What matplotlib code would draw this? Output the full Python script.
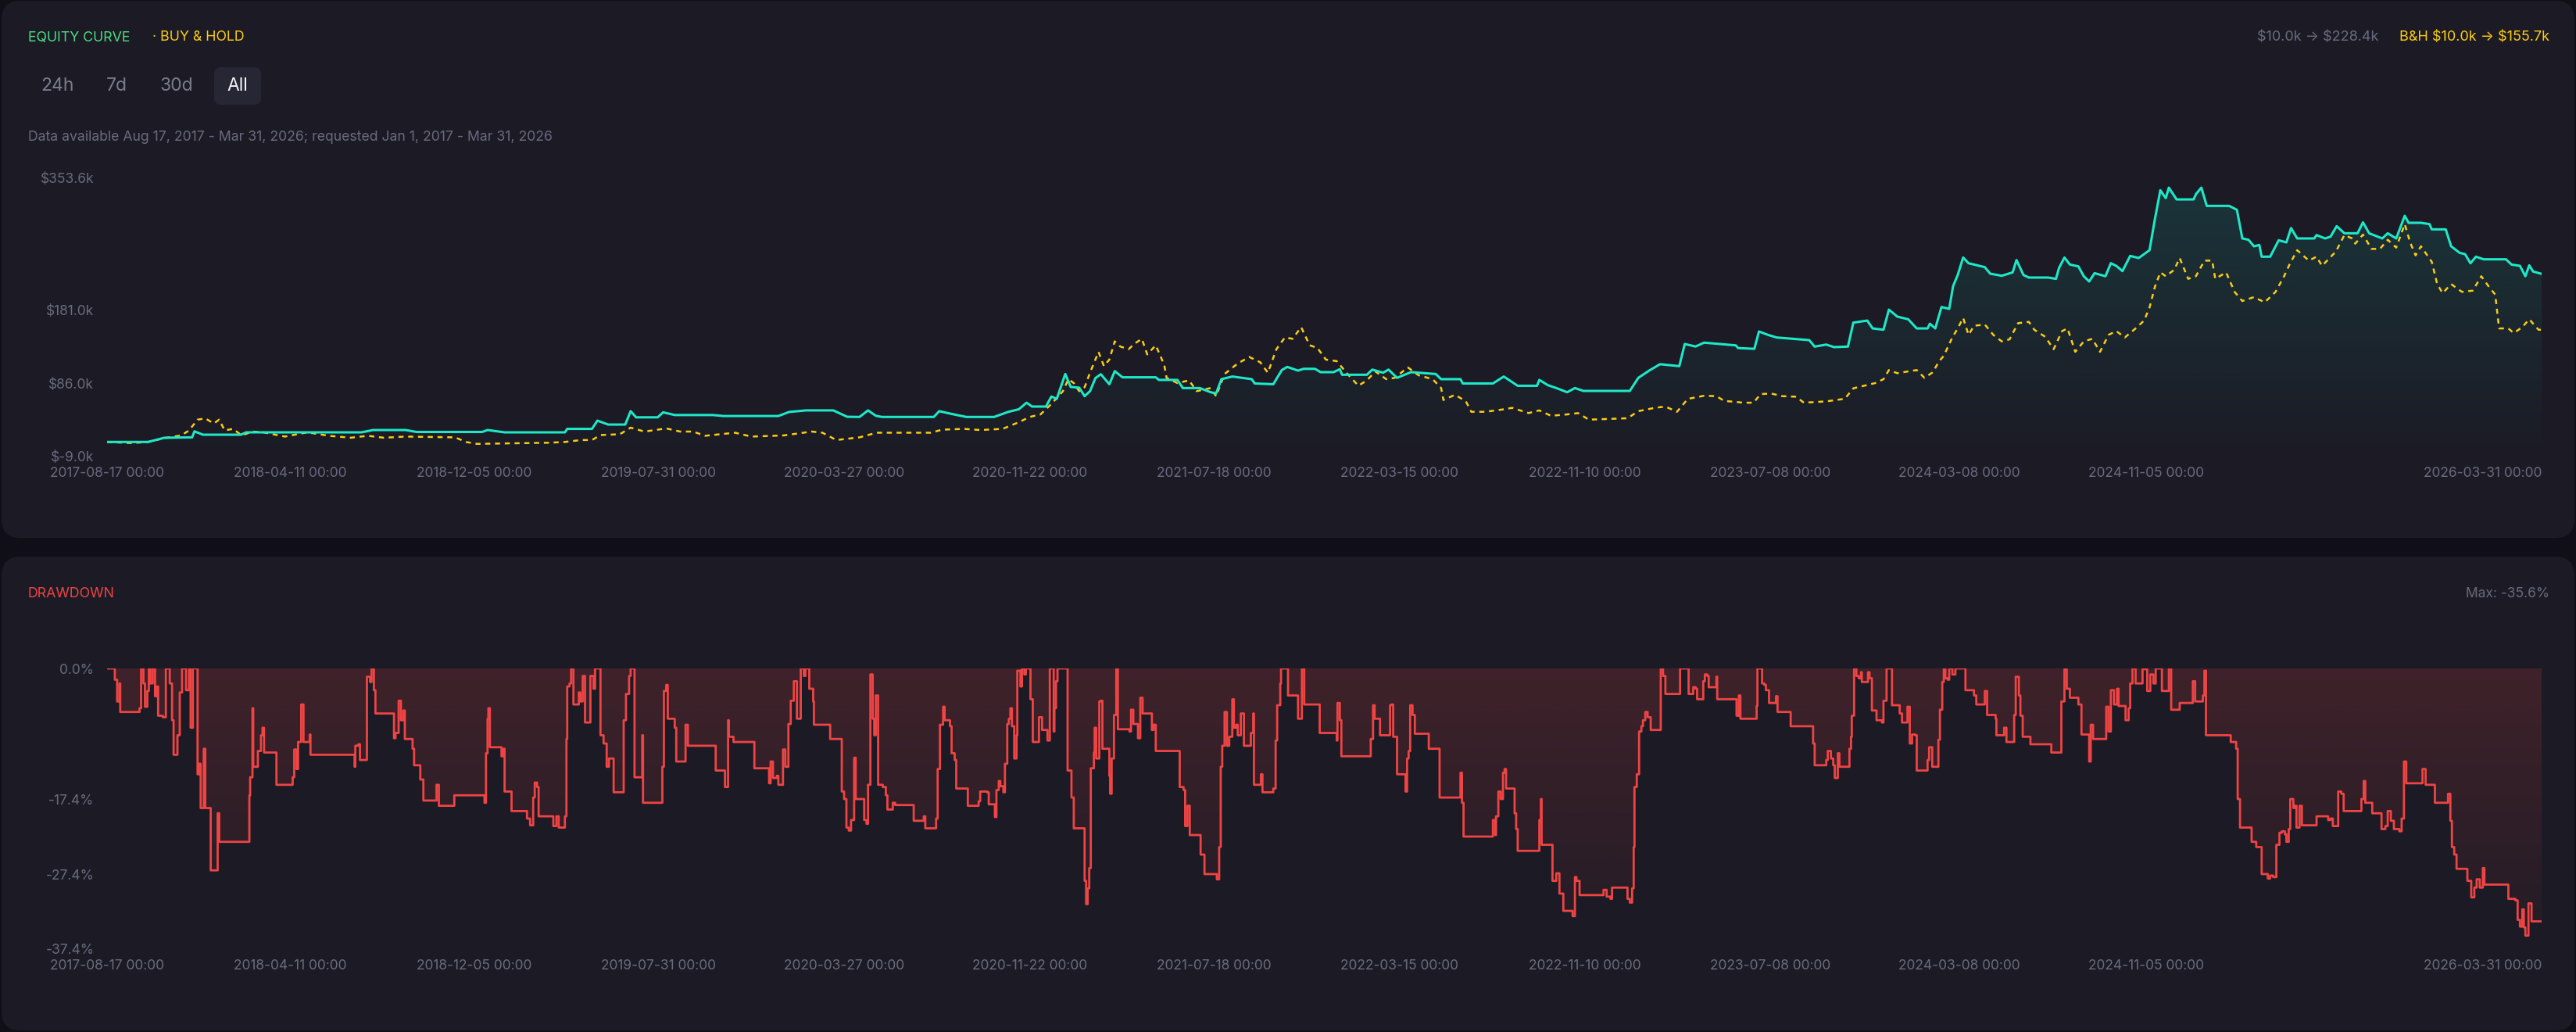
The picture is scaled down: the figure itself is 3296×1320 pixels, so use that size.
import numpy as np
import pandas as pd
import matplotlib
matplotlib.use("Agg")
import matplotlib.pyplot as plt
import matplotlib.dates as mdates
from matplotlib.patches import FancyBboxPatch
from matplotlib.path import Path

plt.rcParams['font.family'] = ['Inter', 'DejaVu Sans']

START = pd.Timestamp('2017-08-17')

# strategy equity, $k, days since 2017-08-17
strat_day = [0, 53, 74, 110, 113, 124, 173, 180, 329, 344, 386, 400, 485, 492, 514, 592, 595, 627, 634,
             648, 670, 677, 684, 712, 719, 734, 783, 797, 868, 882, 904, 939, 957, 973, 984, 994, 1002,
             1069, 1076, 1094, 1111, 1147, 1165, 1179, 1189, 1196, 1214, 1221, 1228, 1239, 1246, 1257,
             1264, 1271, 1278, 1285, 1296, 1303, 1313, 1356, 1360, 1384, 1391, 1413, 1427, 1434, 1441,
             1455, 1480, 1484, 1508, 1519, 1526, 1540, 1547, 1562, 1569, 1586, 1594, 1597, 1629, 1636,
             1650, 1657, 1668, 1686, 1718, 1725, 1750, 1753, 1792, 1806, 1824, 1849, 1852, 1863, 1874,
             1888, 1898, 1909, 1969, 1980, 1994, 2008, 2033, 2040, 2054, 2065, 2085, 2106, 2109, 2130,
             2136, 2148, 2159, 2201, 2208, 2223, 2233, 2251, 2258, 2276, 2283, 2297, 2304, 2315, 2329,
             2340, 2354, 2357, 2364, 2372, 2382, 2387, 2393, 2400, 2407, 2428, 2435, 2450, 2464, 2469,
             2478, 2485, 2510, 2520, 2524, 2531, 2538, 2549, 2556, 2563, 2570, 2584, 2591, 2598, 2606,
             2616, 2627, 2641, 2648, 2655, 2662, 2666, 2676, 2698, 2701, 2708, 2715, 2744, 2754, 2761,
             2769, 2776, 2783, 2786, 2797, 2808, 2818, 2824, 2832, 2854, 2857, 2868, 2875, 2883, 2893,
             2910, 2917, 2925, 2942, 2949, 2960, 2971, 2976, 2992, 3003, 3006, 3024, 3031, 3042, 3049,
             3056, 3063, 3073, 3102, 3109, 3120, 3127, 3132, 3137, 3148]
strat_k = [10, 10, 15.4, 16, 23.8, 19.4, 19.4, 22.5, 22.5, 25.5, 25.5, 23, 23, 25.5, 22.5, 22.5, 27, 27, 37.7,
           32.6, 32.6, 50, 42, 42, 48.5, 45, 45, 43.7, 43.7, 49, 51, 51, 42.7, 42.5, 51, 44, 42.5,
           42.5, 50, 46, 42.5, 42.5, 49, 52.5, 61, 56, 56, 69, 66, 98.3, 81.5, 80.5,
           69.5, 76, 93, 98, 85, 102, 94, 94, 90.6, 90.6, 80, 80, 74.6, 73, 91.6,
           95, 91.6, 86, 85, 103.4, 107.5, 102.7, 105, 105, 100.7, 100.7, 104.5, 97.3, 97.3, 104,
           100, 104, 93.3, 100.7, 98.3, 91.6, 91.6, 86, 86, 95, 83, 83, 90.6, 83.8, 80,
           74.6, 80, 76.3, 76.3, 93.3, 102.7, 111, 108.5, 137.3, 134, 139, 137.3, 135.5, 132, 131,
           153.5, 149, 145.7, 142.3, 133.9, 136.5, 133.2, 133.9, 165, 167.7, 157.5, 155.8, 181.9, 172.8, 169.4,
           157.5, 157.5, 163.6, 157.5, 185.3, 182.9, 212.4, 226.9, 249.6, 242.2, 237.1, 228.6, 225.9, 230.3, 246.3,
           226.9, 223.6, 223.6, 221.9, 236.1, 249.6, 240.5, 238.1, 225.3, 218.5, 229.3, 225.3, 242.2, 238.8, 232,
           251.7, 249, 259.1, 299.7, 337, 326.8, 340.4, 325.1, 325.1, 331.9, 340.4, 316.7, 316.7, 311.6, 274.4,
           272.7, 264.2, 265.9, 250.7, 250.7, 272, 269.3, 287.9, 274.4, 274.4, 278.8, 274.4, 276.7, 290.3, 281.1,
           281.1, 295.3, 281.1, 274.4, 281.1, 274.4, 303.8, 294.7, 294.7, 293, 286.2, 286.2, 264.2, 255.7, 254,
           242.2, 250.7, 247.3, 247.3, 240.5, 238.8, 225.3, 239.5, 231.4, 228.4]

# buy & hold equity, $k
bh_day = [0, 32, 53, 74, 96, 106, 117, 127, 138, 145, 152, 163, 174, 188, 202, 230, 259, 287, 315, 337, 358,
          386, 450, 464, 478, 571, 592, 613, 627, 638, 663, 677, 695, 723, 741, 758, 773, 812, 833, 875, 911,
          925, 943, 973, 995, 1065, 1080, 1108, 1129, 1158, 1179, 1193, 1207, 1221, 1236, 1243, 1250, 1257,
          1264, 1271, 1282, 1289, 1296, 1303, 1310, 1321, 1328, 1338, 1345, 1356, 1367, 1370, 1384, 1399,
          1409, 1427, 1434, 1445, 1462, 1477, 1491, 1501, 1512, 1523, 1533, 1544, 1555, 1565, 1576, 1590,
          1604, 1618, 1629, 1640, 1654, 1665, 1682, 1696, 1714, 1725, 1728, 1743, 1757, 1764, 1782, 1803,
          1817, 1838, 1852, 1867, 1888, 1902, 1916, 1966, 1980, 2001, 2015, 2030, 2044, 2065, 2081, 2091,
          2116, 2129, 2138, 2152, 2166, 2184, 2194, 2223, 2247, 2258, 2272, 2286, 2297, 2304, 2315, 2329,
          2340, 2350, 2361, 2368, 2375, 2386, 2393, 2400, 2407, 2414, 2428, 2439, 2450, 2460, 2471, 2485,
          2492, 2506, 2517, 2528, 2535, 2545, 2556, 2567, 2577, 2588, 2598, 2609, 2623, 2634, 2641, 2648,
          2655, 2662, 2673, 2680, 2691, 2701, 2712, 2722, 2726, 2740, 2751, 2761, 2776, 2790, 2804, 2815,
          2822, 2832, 2847, 2857, 2864, 2882, 2893, 2903, 2907, 2917, 2928, 2939, 2949, 2960, 2971, 2978,
          2985, 2992, 3006, 3013, 3020, 3031, 3045, 3059, 3070, 3081, 3088, 3093, 3105, 3112, 3123, 3132,
          3144, 3148]
bh_k = [10, 8.5, 10, 15, 18.5, 25, 39, 40.6, 34, 39, 25, 27, 18.5, 23.5, 22.5, 17, 22.5, 18, 15.5, 18, 15.5,
        17, 16, 10, 7.5, 9, 10, 12.5, 12.5, 19, 20, 28.6, 23.5, 27.6, 23.5, 23.5, 18, 22, 17, 18.5, 23.5,
        22, 12.5, 16, 22, 22, 26, 27, 25.5, 27, 35.7, 42.5, 45.8, 59.4, 76, 91.6, 86.5, 76,
        81, 100, 127, 108.5, 117, 140.7, 134, 130.5, 137.3, 144, 123.7, 135.6, 110, 93.3, 86.5, 90,
        76, 80, 69.5, 98.3, 112, 120.4, 113.6, 100, 130.5, 145.8, 144, 159.2, 135.6, 132.2, 117, 115,
        98.3, 83, 90, 101.6, 91.6, 93.3, 106.8, 96.6, 91.6, 80, 64.5, 71.3, 62.8, 49.2, 49.2, 52,
        54.3, 47.5, 51, 44, 45.8, 47.5, 39, 40.8, 50, 54.3, 56, 49.2, 66, 70, 69.5, 63.4,
        61, 61, 72.2, 72.9, 69.5, 68.8, 61, 62.7, 66.1, 79.7, 83.1, 86.4, 91.5, 103.4, 99.3, 101.7,
        103.4, 93.2, 100.7, 113.5, 122, 145.7, 157.5, 171.1, 149.1, 160.9, 162.6, 149.1, 140.6, 143.3, 164.3, 166,
        155.8, 146.7, 130.5, 154.1, 157.5, 127.1, 140.6, 144, 127.1, 149.1, 154.1, 145.7, 157.5, 167.7, 184.6, 211.7,
        230.3, 225.3, 233.7, 249, 221.9, 225.3, 245.6, 245.6, 221.9, 230.3, 205, 193.1, 198.2, 191.4, 205, 225.3,
        240.5, 259.1, 245.6, 250.7, 238.8, 257.4, 278.8, 274.4, 267.6, 279.4, 260.8, 260.8, 272.7, 262.5, 293, 269.3,
        252.4, 264.2, 243.9, 215.1, 203.3, 215.1, 205, 206.6, 225.3, 210, 201.6, 157.5, 157.5, 151.4, 159.2, 169.4,
        155.8, 155.7]

# drawdown, % (step series)
dd_day = [0, 8, 10, 13, 16, 17, 39, 42, 44, 47, 49, 52, 54, 56, 59, 62, 64, 66, 72, 76, 81, 84, 86, 91, 94, 97,
          102, 106, 108, 111, 115, 117, 119, 121, 125, 127, 132, 134, 142, 143, 145, 182, 184, 185, 188, 189,
          195, 199, 201, 203, 217, 219, 238, 240, 242, 245, 247, 251, 254, 262, 263, 317, 320, 321, 325, 327,
          334, 336, 340, 342, 345, 347, 369, 371, 373, 377, 380, 383, 385, 394, 395, 397, 405, 409, 425, 426,
          429, 447, 449, 488, 490, 492, 493, 495, 506, 510, 512, 514, 520, 523, 540, 543, 547, 551, 553, 556,
          558, 575, 577, 581, 584, 588, 592, 594, 595, 598, 600, 603, 606, 610, 612, 615, 618, 624, 625, 629,
          631, 637, 638, 642, 646, 649, 652, 655, 666, 668, 671, 675, 677, 681, 682, 690, 692, 693, 715, 718,
          720, 723, 725, 732, 734, 736, 746, 748, 751, 784, 787, 797, 799, 803, 804, 810, 835, 837, 855, 856,
          858, 861, 866, 868, 872, 874, 877, 881, 884, 888, 892, 894, 897, 901, 903, 907, 908, 913, 914, 933,
          935, 947, 950, 953, 956, 959, 962, 966, 968, 977, 979, 982, 984, 987, 990, 992, 994, 997, 1003, 1007,
          1009, 1016, 1019, 1041, 1043, 1055, 1056, 1058, 1070, 1072, 1074, 1077, 1081, 1083, 1087, 1090, 1092,
          1096, 1098, 1110, 1113, 1125, 1127, 1129, 1138, 1140, 1146, 1148, 1150, 1153, 1155, 1159, 1161, 1164,
          1166, 1168, 1170, 1173, 1176, 1177, 1181, 1183, 1186, 1188, 1194, 1197, 1203, 1205, 1209, 1214, 1216,
          1219, 1222, 1224, 1225, 1227, 1229, 1240, 1242, 1247, 1250, 1261, 1264, 1266, 1268, 1270, 1272, 1276,
          1277, 1279, 1283, 1285, 1287, 1293, 1296, 1297, 1299, 1302, 1305, 1307, 1320, 1322, 1324, 1327, 1331,
          1333, 1336, 1339, 1350, 1351, 1353, 1356, 1385, 1387, 1392, 1394, 1397, 1400, 1413, 1414, 1418, 1419,
          1433, 1435, 1438, 1440, 1442, 1445, 1448, 1451, 1455, 1457, 1460, 1462, 1466, 1470, 1477, 1479, 1482,
          1483, 1491, 1492, 1494, 1505, 1508, 1511, 1513, 1517, 1518, 1525, 1527, 1537, 1540, 1542, 1545, 1548,
          1566, 1568, 1587, 1590, 1591, 1594, 1596, 1631, 1634, 1637, 1639, 1644, 1646, 1657, 1659, 1661, 1663,
          1666, 1668, 1675, 1679, 1681, 1683, 1685, 1688, 1691, 1706, 1709, 1722, 1723, 1748, 1750, 1752, 1754,
          1789, 1792, 1795, 1796, 1799, 1802, 1805, 1807, 1809, 1818, 1820, 1822, 1824, 1849, 1852, 1854, 1855,
          1866, 1869, 1874, 1878, 1883, 1892, 1895, 1898, 1900, 1904, 1933, 1935, 1939, 1944, 1946, 1966, 1969,
          1972, 1974, 1975, 1978, 1981, 1984, 1986, 1989, 1992, 1996, 2008, 2009, 2012, 2015, 2032, 2034, 2044,
          2045, 2049, 2051, 2054, 2056, 2061, 2064, 2066, 2069, 2071, 2079, 2081, 2082, 2104, 2107, 2110, 2112,
          2130, 2133, 2134, 2138, 2140, 2143, 2145, 2149, 2156, 2158, 2160, 2175, 2177, 2205, 2206, 2208, 2219,
          2223, 2225, 2229, 2232, 2234, 2238, 2240, 2251, 2253, 2255, 2256, 2259, 2262, 2265, 2268, 2269, 2275,
          2277, 2279, 2282, 2286, 2288, 2295, 2297, 2301, 2306, 2308, 2316, 2318, 2321, 2327, 2328, 2331, 2334,
          2338, 2340, 2353, 2354, 2356, 2360, 2365, 2368, 2370, 2373, 2375, 2377, 2380, 2382, 2386, 2390, 2401,
          2403, 2412, 2414, 2417, 2425, 2428, 2431, 2438, 2442, 2443, 2449, 2453, 2456, 2464, 2466, 2468, 2472,
          2474, 2477, 2484, 2487, 2511, 2514, 2523, 2527, 2531, 2534, 2538, 2547, 2549, 2553, 2560, 2563, 2565,
          2568, 2583, 2585, 2588, 2591, 2595, 2599, 2601, 2607, 2610, 2614, 2616, 2619, 2623, 2631, 2632, 2638,
          2642, 2646, 2649, 2657, 2664, 2666, 2669, 2677, 2680, 2696, 2697, 2700, 2707, 2710, 2712, 2714, 2743,
          2746, 2753, 2755, 2758, 2770, 2773, 2779, 2785, 2786, 2792, 2794, 2797, 2801, 2805, 2809, 2812, 2816,
          2818, 2821, 2823, 2827, 2829, 2831, 2835, 2838, 2855, 2857, 2869, 2872, 2875, 2878, 2883, 2885, 2889,
          2892, 2912, 2915, 2918, 2920, 2927, 2929, 2938, 2941, 2946, 2949, 2953, 2957, 2964, 2967, 2970, 2973,
          2992, 2994, 2998, 3007, 3010, 3024, 3027, 3030, 3032, 3035, 3038, 3049, 3052, 3057, 3061, 3064, 3068,
          3072, 3074, 3104, 3105, 3114, 3117, 3120, 3123, 3125, 3127, 3131, 3135, 3148]
dd_pct = [0, 0, -1.5, -4.4, -2.0, -5.8, -5.8, -5.3, 0, -2.0, -5.1, -3.0, 0, -2.0, 0, -3.7, -2.4, -6.3, -6.5, 0,
          -2.0, -6.9, -11.5, -8.9, -3.2, 0, -2.9, 0, -7.9, 0, 0, -14.1, -12.7, -18.6, -10.7, -18.6, -18.6, -26.9,
          -26.9, -19.3, -23.1, -23.1, -16.9, -14.5, -5.3, -13.1, -11.0, -8.9, -7.9, -11.2, -11.2, -15.5, -15.5,
          -14.5, -10.8, -13.4, -9.8, -4.8, -9.8, -8.8, -11.5, -11.5, -13.1, -10.3, -10.1, -12.2, -12.2, -1.1,
          -1.8, 0, -2.9, -6.0, -6.0, -9.3, -8.6, -4.3, -6.9, -5.6, -9.4, -9.4, -10.7, -12.9, -14.8, -17.6, -17.6,
          -15.5, -18.3, -18.3, -16.9, -17.9, -11.3, -6.7, -5.3, -10.5, -10.5, -11.7, -10.7, -16.4, -16.4, -19.0,
          -19.0, -20.0, -20.9, -17.2, -15.2, -15.8, -19.7, -19.7, -21.0, -19.7, -21.2, -21.2, -19.7, -9.4, -2.4,
          -2.0, 0, -4.8, -4.8, -3.2, -4.4, -1.0, -7.2, -7.2, -1.0, -2.7, 0, 0, -8.9, -10.0, -13.1, -12.0, -12.0,
          -16.5, -16.5, -6.9, -3.4, -1.0, 0, 0, -14.5, -14.5, -8.9, -17.9, -17.9, -13.1, -3.0, -2.2, -6.7, -6.7,
          -7.9, -12.4, -12.4, -7.5, -10.3, -10.3, -13.6, -13.6, -15.8, -6.9, -9.1, -9.8, -9.8, -13.3, -13.3,
          -15.3, -12.4, -14.6, -14.3, -15.5, -15.5, -10.8, -13.1, -7.4, -4.3, -1.7, -6.7, -6.7, 0, -1.0, 0, 0,
          -2.7, -4.4, -7.5, -7.5, -9.4, -9.4, -16.4, -17.4, -21.2, -21.6, -20.2, -11.9, -17.4, -17.4, -20.2,
          -20.7, -15.5, -0.8, -6.7, -8.9, -3.6, -15.5, -15.8, -16.9, -18.8, -17.9, -18.2, -18.2, -20.3, -20.3,
          -19.7, -21.3, -21.3, -20.0, -13.4, -7.5, -5.1, -6.9, -6.9, -7.7, -11.3, -12.2, -16.0, -16.0, -18.3,
          -18.3, -17.7, -16.4, -16.5, -18.1, -18.1, -19.8, -16.2, -15.0, -15.7, -16.5, -12.7, -7.4, -6.7, -5.3,
          -7.7, -12.0, -8.9, -0.3, -2.4, 0, -0.8, 0, -4.1, -9.8, -9.8, -6.5, -8.2, -8.2, -9.6, 0, 0, -8.4, -5.3,
          -1.7, 0, 0, -13.6, -17.2, -21.3, -21.3, -28.3, -31.4, -29.3, -26.6, -13.3, -11.2, -7.9, -12.0, -4.4,
          -4.3, -10.7, -10.7, -14.3, -16.7, -12.0, -6.2, 0, -8.1, -8.1, -8.4, -5.5, -7.4, -7.4, -9.3, -3.9, -6.0,
          -6.0, -8.2, -7.5, -11.0, -11.0, -15.8, -16.2, -21.0, -18.3, -22.2, -22.2, -24.8, -24.8, -27.4, -27.4,
          -28.1, -23.8, -13.1, -10.3, -5.8, -10.3, -9.1, -4.1, -7.9, -7.5, -8.9, -6.0, -10.3, -10.3, -8.6, -6.0,
          -15.5, -15.5, -14.1, -16.5, -16.5, -16.0, -9.6, -4.9, -2.0, 0, 0, -3.6, -3.6, -6.7, -6.7, 0, -4.8,
          -4.8, -8.6, -8.6, -9.6, -4.6, -6.9, -11.7, -11.7, -9.4, -4.9, -6.7, -6.7, -8.9, -8.9, -4.9, -4.8, -9.1,
          -9.1, -14.1, -14.1, -16.4, -12.0, -11.0, -4.9, -6.2, -8.7, -8.7, -10.7, -10.7, -17.2, -17.2, -13.9,
          -17.9, -22.4, -22.4, -20.2, -22.2, -19.7, -16.4, -17.4, -13.9, -13.4, -16.0, -16.0, -19.3, -21.4,
          -24.3, -24.3, -20.2, -17.4, -23.5, -23.5, -28.3, -27.3, -30.0, -32.3, -32.3, -33.0, -27.8, -28.3,
          -30.2, -30.2, -29.5, -30.4, -30.7, -29.2, -30.7, -31.2, -29.3, -23.8, -15.8, -14.1, -8.4, -7.7, -6.9,
          -5.8, -6.5, -8.2, -8.2, 0, -1.0, -3.4, -3.4, 0, 0, -3.4, -3.4, -2.5, -2.7, -4.1, -4.1, -1.7, -0.8,
          -1.0, -2.5, -2.5, -1.1, -4.1, -4.1, -6.3, -3.6, -6.7, -6.7, -5.0, 0, 0, -2.0, -2.2, -2.9, -4.6, -4.6,
          -3.7, -5.8, -5.8, -7.7, -7.7, -10.0, -12.9, -12.9, -12.2, -11.0, -12.0, -12.9, -14.6, -11.3, -13.1,
          -13.1, -10.7, -9.1, -6.3, 0, -1.0, -1.3, -0.5, -1.8, -1.8, -0.5, -1.3, -5.6, -5.6, -6.9, -7.2, -4.3, 0,
          0, -4.9, -4.9, -6.0, -7.2, -7.2, -5.1, -10.0, -8.8, -8.9, -13.6, -13.6, -12.2, -10.5, -13.1, -13.1,
          -9.5, -5.5, -1.8, 0, -1.3, -1.5, 0, -0.8, 0, 0, -2.9, -2.9, -3.6, -4.8, -4.8, -3.0, -6.2, -6.2, -6.7,
          -8.9, -8.9, -7.9, -9.8, -9.8, -6.2, -1.1, -3.6, -6.3, -9.1, -9.1, -10.1, -10.1, -11.2, -11.2, -4.4,
          -0.1, -2.7, -3.9, -3.9, -4.8, -8.8, -8.8, -12.4, -7.5, -9.4, -9.4, -5.1, -8.4, -2.9, -4.8, -2.7, -5.0,
          -5.0, -6.9, -5.3, -2.0, 0, -2.0, -2.0, -0.1, -3.0, -0.8, -2.0, 0, -3.0, -3.0, 0, -5.5, -5.5, -4.6,
          -4.6, -1.7, -4.4, -4.4, -3.6, -0.3, -8.9, -8.9, -9.8, -10.7, -17.4, -21.2, -21.2, -23.1, -23.8, -23.8,
          -27.4, -27.4, -28.0, -27.6, -27.8, -23.5, -21.9, -21.7, -22.1, -23.1, -21.4, -17.4, -18.6, -18.3,
          -21.2, -18.3, -20.9, -20.9, -19.7, -19.7, -20.2, -20.0, -21.0, -21.0, -16.4, -16.7, -19.0, -19.0,
          -17.4, -15.0, -17.9, -17.9, -19.3, -19.3, -21.4, -21.0, -19.0, -20.3, -21.4, -21.7, -20.0, -12.4,
          -15.3, -15.3, -13.4, -15.5, -15.5, -17.9, -17.9, -16.7, -20.3, -23.8, -24.8, -26.7, -26.7, -28.3,
          -30.5, -29.2, -28.1, -29.2, -26.6, -28.8, -28.8, -30.7, -30.9, -33.5, -34.4, -32.1, -34.5, -35.6,
          -31.3, -33.7, -33.7]

eq_ticks = [-9.0, 86.0, 181.0, 353.6]
eq_ticklabels = ['$-9.0k', '$86.0k', '$181.0k', '$353.6k']
dd_ticks = [0.0, -17.4, -27.4, -37.4]
dd_ticklabels = ['0.0%', '-17.4%', '-27.4%', '-37.4%']
x_ticks = ['2017-08-17', '2018-04-11', '2018-12-05', '2019-07-31', '2020-03-27', '2020-11-22',
           '2021-07-18', '2022-03-15', '2022-11-10', '2023-07-08', '2024-03-08', '2024-11-05', '2026-03-31']

BG = '#100f17'
PANEL = '#1c1b25'
GRAY = '#6b6a7e'
TEAL = '#1ee8c8'
YELLOW = '#facc15'
RED = '#ef4444'
W, H = 3296, 1320


def to_dates(days):
    return START + pd.to_timedelta(days, unit='D')


fig = plt.figure(figsize=(W / 100, H / 100), dpi=100, facecolor=BG)

# background layer in pixel coordinates
bg = fig.add_axes([0, 0, 1, 1])
bg.set_xlim(0, W)
bg.set_ylim(H, 0)
bg.axis('off')
for (y0, y1) in [(1, 688), (712, 1318)]:
    bg.add_patch(FancyBboxPatch((2, y0), W - 4, y1 - y0, boxstyle='round,pad=0,rounding_size=24',
                                fc=PANEL, ec='none'))
bg.add_patch(FancyBboxPatch((274, 86), 60, 48, boxstyle='round,pad=0,rounding_size=9',
                            fc='#272634', ec='none'))

bg.text(36, 48, 'EQUITY CURVE', color='#4ade80', fontsize=12.8, va='center', ha='left')
bg.text(195, 48, '· BUY & HOLD', color=YELLOW, fontsize=12.8, va='center', ha='left')
bg.text(3262, 48, 'B&H \\$10.0k → \\$155.7k', color=YELLOW, fontsize=13, va='center', ha='right')
bg.text(3043, 48, '\\$10.0k → \\$228.4k', color=GRAY, fontsize=13, va='center', ha='right')
for lab, xc, col in [('24h', 73, '#7c7b8f'), ('7d', 149, '#7c7b8f'), ('30d', 226, '#7c7b8f'), ('All', 304, '#f2f2f7')]:
    bg.text(xc, 110, lab, color=col, fontsize=16.5, va='center', ha='center')
bg.text(36, 175, 'Data available Aug 17, 2017 - Mar 31, 2026; requested Jan 1, 2017 - Mar 31, 2026',
        color=GRAY, fontsize=12.7, va='center', ha='left')
bg.text(36, 759, 'DRAWDOWN', color=RED, fontsize=12.8, va='center', ha='left')
bg.text(3262, 759, 'Max: -35.6%', color=GRAY, fontsize=12.5, va='center', ha='right')

x0, x1 = 137 / W, 3252 / W
ax1 = fig.add_axes([x0, 1 - 584 / H, x1 - x0, (584 - 227) / H])
ax2 = fig.add_axes([x0, 1 - 1214 / H, x1 - x0, (1214 - 855) / H])

s_dates = to_dates(strat_day)
b_dates = to_dates(bh_day)
d_dates = to_dates(dd_day)
xmin, xmax = mdates.date2num(START), mdates.date2num(to_dates([3148])[0])


def gradient_fill(ax, coll, rgb, a_top, a_bot, ylo, yhi):
    grad = np.zeros((256, 1, 4))
    grad[:, 0, :3] = matplotlib.colors.to_rgb(rgb)
    grad[:, 0, 3] = np.linspace(a_top, a_bot, 256)
    im = ax.imshow(grad, extent=[xmin, xmax, ylo, yhi], aspect='auto', origin='upper', zorder=1)
    clip = Path.make_compound_path(*coll.get_paths())
    im.set_clip_path(clip, ax.transData)


# equity panel
poly = ax1.fill_between(s_dates, strat_k, -9.0, facecolor='none', edgecolor='none')
gradient_fill(ax1, poly, '#14b8a6', 0.17, 0.0, -9.0, 353.6)
ax1.plot(b_dates, bh_k, color=YELLOW, lw=1.8, ls=(0, (2.6, 2.4)), zorder=3)
ax1.plot(s_dates, strat_k, color=TEAL, lw=2.2, zorder=4)
ax1.set_ylim(-9.0, 353.6)
ax1.set_yticks(eq_ticks)
ax1.set_yticklabels(eq_ticklabels)

# drawdown panel
poly2 = ax2.fill_between(d_dates, dd_pct, 0, step='post', facecolor='none', edgecolor='none')
gradient_fill(ax2, poly2, RED, 0.17, 0.03, -37.4, 0)
ax2.plot(d_dates, dd_pct, color=RED, lw=2.0, drawstyle='steps-post', zorder=4)
ax2.set_ylim(-37.4, 0)
ax2.set_yticks(dd_ticks)
ax2.set_yticklabels(dd_ticklabels)

for ax in (ax1, ax2):
    ax.set_facecolor('none')
    ax.set_xlim(xmin, xmax)
    for sp in ax.spines.values():
        sp.set_visible(False)
    ax.set_xticks(mdates.date2num(pd.to_datetime(x_ticks)))
    ax.set_xticklabels([t + ' 00:00' for t in x_ticks])
    ax.tick_params(axis='x', length=0, pad=9, colors=GRAY, labelsize=12.5)
    ax.tick_params(axis='y', length=0, pad=12, colors=GRAY, labelsize=12.5)
    ax.get_xticklabels()[-1].set_horizontalalignment('right')

fig.savefig('out.png', dpi=100, facecolor=BG)
